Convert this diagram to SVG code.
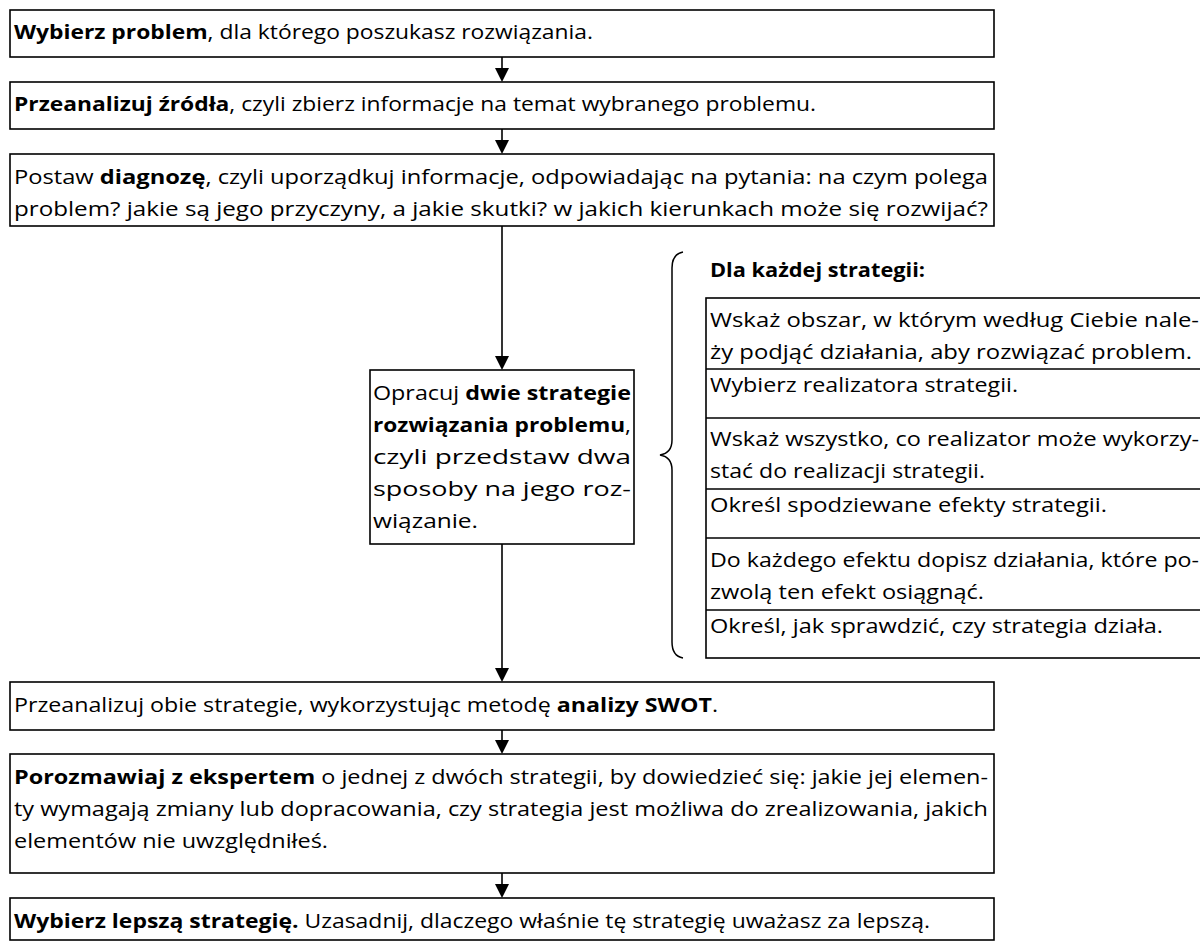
<svg xmlns="http://www.w3.org/2000/svg" width="1200" height="942" viewBox="0 0 1200 942">
<style>
.box{fill:#fff;stroke:#000;stroke-width:1.6}
.sep{stroke:#000;stroke-width:1.6}
.t{font-family:"Open Sans","Noto Sans","Liberation Sans",sans-serif;font-size:20px;fill:#000}
.b{font-weight:bold}
.conn line{stroke:#000;stroke-width:1.6}
.conn polygon{fill:#000}
.brace{fill:none;stroke:#000;stroke-width:1.5}
</style>
<rect width="1200" height="942" fill="#fff"/>
<g id="connectors" class="conn">
<line x1="502" y1="57" x2="502" y2="69"/><polygon points="495,68 509,68 502,82"/>
<line x1="502" y1="129" x2="502" y2="141"/><polygon points="495,140 509,140 502,154"/>
<line x1="502" y1="226" x2="502" y2="357"/><polygon points="495,356 509,356 502,370"/>
<line x1="502" y1="544" x2="502" y2="669"/><polygon points="495,668 509,668 502,682"/>
<line x1="502" y1="730" x2="502" y2="741"/><polygon points="495,740 509,740 502,754"/>
<line x1="502" y1="873" x2="502" y2="885"/><polygon points="495,884 509,884 502,898"/>
</g>
<g id="n1">
<rect class="box" x="10" y="10" width="984" height="47"/>
<text class="t" x="14" y="39" textLength="579" lengthAdjust="spacingAndGlyphs"><tspan class="b">Wybierz problem</tspan>, dla którego poszukasz rozwiązania.</text>
</g>
<g id="n2">
<rect class="box" x="10" y="82" width="984" height="47"/>
<text class="t" x="14" y="111" textLength="802" lengthAdjust="spacingAndGlyphs"><tspan class="b">Przeanalizuj źródła</tspan>, czyli zbierz informacje na temat wybranego problemu.</text>
</g>
<g id="n3">
<rect class="box" x="10" y="154" width="984" height="72"/>
<text class="t" x="14" y="184" textLength="974" lengthAdjust="spacingAndGlyphs">Postaw <tspan class="b">diagnozę</tspan>, czyli uporządkuj informacje, odpowiadając na pytania: na czym polega</text>
<text class="t" x="14" y="216" textLength="974" lengthAdjust="spacingAndGlyphs">problem? jakie są jego przyczyny, a jakie skutki? w jakich kierunkach może się rozwijać?</text>
</g>
<g id="n4">
<rect class="box" x="370" y="370" width="264" height="174"/>
<text class="t" x="373" y="400" textLength="258" lengthAdjust="spacingAndGlyphs">Opracuj <tspan class="b">dwie strategie</tspan></text>
<text class="t b" x="373" y="432" textLength="258" lengthAdjust="spacingAndGlyphs">rozwiązania problemu<tspan font-weight="normal">,</tspan></text>
<text class="t" x="373" y="464" textLength="258" lengthAdjust="spacingAndGlyphs">czyli przedstaw dwa</text>
<text class="t" x="373" y="496" textLength="258" lengthAdjust="spacingAndGlyphs">sposoby na jego roz-</text>
<text class="t" x="373" y="528" textLength="105" lengthAdjust="spacingAndGlyphs">wiązanie.</text>
</g>
<g id="brace">
<path class="brace" d="M683,252 Q672,254 672,268 L672,440 Q672,453 660,455 Q672,457 672,470 L672,642 Q672,656 683,658"/>
</g>
<g id="n5">
<text class="t b" x="710" y="277" textLength="215" lengthAdjust="spacingAndGlyphs">Dla każdej strategii:</text>
</g>
<g id="n6">
<rect class="box" x="706" y="298" width="520" height="360"/>
<line class="sep" x1="706" y1="369" x2="1210" y2="369"/>
<line class="sep" x1="706" y1="418" x2="1210" y2="418"/>
<line class="sep" x1="706" y1="489" x2="1210" y2="489"/>
<line class="sep" x1="706" y1="538" x2="1210" y2="538"/>
<line class="sep" x1="706" y1="610" x2="1210" y2="610"/>
<text class="t" x="710" y="327" textLength="489" lengthAdjust="spacingAndGlyphs">Wskaż obszar, w którym według Ciebie nale-</text>
<text class="t" x="710" y="359" textLength="482" lengthAdjust="spacingAndGlyphs">ży podjąć działania, aby rozwiązać problem.</text>
<text class="t" x="710" y="392" textLength="308" lengthAdjust="spacingAndGlyphs">Wybierz realizatora strategii.</text>
<text class="t" x="710" y="446" textLength="489" lengthAdjust="spacingAndGlyphs">Wskaż wszystko, co realizator może wykorzy-</text>
<text class="t" x="710" y="478" textLength="275" lengthAdjust="spacingAndGlyphs">stać do realizacji strategii.</text>
<text class="t" x="710" y="512" textLength="397" lengthAdjust="spacingAndGlyphs">Określ spodziewane efekty strategii.</text>
<text class="t" x="710" y="567" textLength="489" lengthAdjust="spacingAndGlyphs">Do każdego efektu dopisz działania, które po-</text>
<text class="t" x="710" y="599" textLength="274" lengthAdjust="spacingAndGlyphs">zwolą ten efekt osiągnąć.</text>
<text class="t" x="710" y="633" textLength="453" lengthAdjust="spacingAndGlyphs">Określ, jak sprawdzić, czy strategia działa.</text>
</g>
<g id="n7">
<rect class="box" x="10" y="682" width="984" height="48"/>
<text class="t" x="14" y="712" textLength="704" lengthAdjust="spacingAndGlyphs">Przeanalizuj obie strategie, wykorzystując metodę <tspan class="b">analizy SWOT</tspan>.</text>
</g>
<g id="n8">
<rect class="box" x="10" y="754" width="984" height="119"/>
<text class="t" x="14" y="784" textLength="974" lengthAdjust="spacingAndGlyphs"><tspan class="b">Porozmawiaj z ekspertem</tspan> o jednej z dwóch strategii, by dowiedzieć się: jakie jej elemen-</text>
<text class="t" x="14" y="816" textLength="974" lengthAdjust="spacingAndGlyphs">ty wymagają zmiany lub dopracowania, czy strategia jest możliwa do zrealizowania, jakich</text>
<text class="t" x="14" y="848" textLength="314" lengthAdjust="spacingAndGlyphs">elementów nie uwzględniłeś.</text>
</g>
<g id="n9">
<rect class="box" x="10" y="898" width="984" height="42"/>
<text class="t" x="14" y="928" textLength="916" lengthAdjust="spacingAndGlyphs"><tspan class="b">Wybierz lepszą strategię.</tspan> Uzasadnij, dlaczego właśnie tę strategię uważasz za lepszą.</text>
</g>
</svg>
